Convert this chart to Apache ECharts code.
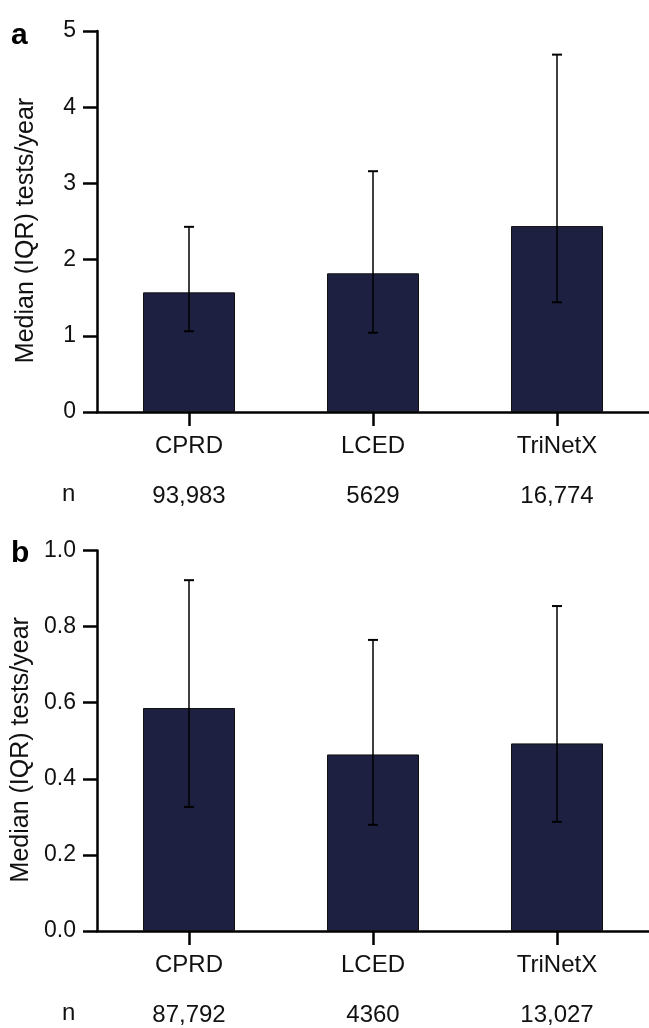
<!DOCTYPE html>
<html>
<head>
<meta charset="utf-8">
<script src="https://cdn.jsdelivr.net/npm/echarts@6/dist/echarts.min.js"></script>
<style>
html,body{margin:0;padding:0;background:#fff;}
#c{width:649px;height:1028px;}
</style>
</head>
<body>
<div id="c"></div>
<script>
const categories = ['CPRD', 'LCED', 'TriNetX'];
// panel a
const medianA = [1.57, 1.82, 2.44];
const lowA = [1.06, 1.04, 1.44];
const highA = [2.43, 3.16, 4.69];
const nA = ['93,983', '5629', '16,774'];
// panel b
const medianB = [0.586, 0.464, 0.493];
const lowB = [0.326, 0.279, 0.287];
const highB = [0.922, 0.765, 0.854];
const nB = ['87,792', '4360', '13,027'];
const yTitle = 'Median (IQR) tests/year';

const FONT = '"Liberation Sans", Arial, Helvetica, sans-serif';
const chart = echarts.init(document.getElementById('c'), null, {renderer: 'canvas'});

function errRender(params, api) {
  const x = api.value(0), lo = api.value(1), hi = api.value(2);
  const pLo = api.coord([x, lo]);
  const pHi = api.coord([x, hi]);
  const h = 5;
  return {
    type: 'group',
    children: [
      {type: 'line', shape: {x1: pLo[0], y1: pLo[1], x2: pHi[0], y2: pHi[1]}, style: {stroke: '#000', lineWidth: 1.5}},
      {type: 'line', shape: {x1: pHi[0] - h, y1: pHi[1], x2: pHi[0] + h, y2: pHi[1]}, style: {stroke: '#000', lineWidth: 2}},
      {type: 'line', shape: {x1: pLo[0] - h, y1: pLo[1], x2: pLo[0] + h, y2: pLo[1]}, style: {stroke: '#000', lineWidth: 2}}
    ]
  };
}

function xAxes(gi, nVals) {
  return [
    {
      type: 'category', gridIndex: gi, data: categories, position: 'bottom',
      boundaryGap: true,
      axisLine: {show: true, lineStyle: {color: '#000', width: 2.5}},
      axisTick: {show: true, alignWithLabel: true, length: 14, lineStyle: {color: '#000', width: 2.5}},
      axisLabel: {color: '#111', fontSize: 24, fontFamily: FONT, margin: 22}
    },
    {
      type: 'category', gridIndex: gi, data: nVals, position: 'bottom',
      boundaryGap: true,
      axisLine: {show: false}, axisTick: {show: false},
      axisLabel: {color: '#111', fontSize: 24, fontFamily: FONT, margin: 72}
    }
  ];
}

function yAxis(gi, max, interval, fmt) {
  return {
    type: 'value', gridIndex: gi, min: 0, max: max, interval: interval,
    splitLine: {show: false},
    axisLine: {show: true, lineStyle: {color: '#000', width: 2.5}},
    axisTick: {show: true, length: 14, lineStyle: {color: '#000', width: 2.5}},
    axisLabel: {color: '#111', fontSize: 23, fontFamily: FONT, margin: 21, formatter: fmt},
    name: yTitle, nameLocation: 'middle', nameRotate: 90, nameGap: 58,
    nameTextStyle: {color: '#111', fontSize: 25, fontFamily: FONT, padding: [0, 18, 0, 0]}
  };
}

const option = {
  animation: false,
  backgroundColor: '#fff',
  grid: [
    {left: 97, right: 0, top: 31, height: 381},
    {left: 97, right: 0, top: 550.5, height: 380.5}
  ],
  xAxis: [...xAxes(0, nA), ...xAxes(1, nB)],
  yAxis: [
    yAxis(0, 5, 1, v => String(v)),
    yAxis(1, 1.0, 0.2, v => v.toFixed(1))
  ],
  graphic: [
    {type: 'text', left: 11, top: 21, style: {text: 'a', font: 'bold 30px ' + FONT, fill: '#000'}},
    {type: 'text', left: 11, top: 539, style: {text: 'b', font: 'bold 30px ' + FONT, fill: '#000'}},
    {type: 'text', left: 62, top: 482, style: {text: 'n', font: '24px ' + FONT, fill: '#111'}},
    {type: 'text', left: 62, top: 1001, style: {text: 'n', font: '24px ' + FONT, fill: '#111'}}
  ],
  series: [
    {type: 'bar', xAxisIndex: 0, yAxisIndex: 0, data: medianA, barWidth: '50%',
      itemStyle: {color: '#1e2041', borderColor: '#111', borderWidth: 1}},
    {type: 'custom', xAxisIndex: 0, yAxisIndex: 0, renderItem: errRender, z: 5,
      data: categories.map((c, i) => [i, lowA[i], highA[i]])},
    {type: 'bar', xAxisIndex: 2, yAxisIndex: 1, data: medianB, barWidth: '50%',
      itemStyle: {color: '#1e2041', borderColor: '#111', borderWidth: 1}},
    {type: 'custom', xAxisIndex: 2, yAxisIndex: 1, renderItem: errRender, z: 5,
      data: categories.map((c, i) => [i, lowB[i], highB[i]])}
  ]
};
chart.setOption(option);
</script>
</body>
</html>
